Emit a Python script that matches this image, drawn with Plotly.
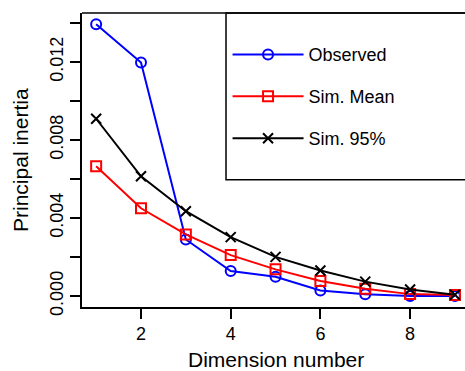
import plotly.graph_objects as go

dims = [1, 2, 3, 4, 5, 6, 7, 8, 9]
observed = [0.01393, 0.01197, 0.00290, 0.00128, 0.00099, 0.00029, 0.00009, 0.00000, 0.00000]
sim_mean = [0.00665, 0.00450, 0.00316, 0.00210, 0.00137, 0.00077, 0.00038, 0.00010, 0.00005]
sim_95 = [0.00909, 0.00614, 0.00435, 0.00302, 0.00201, 0.00131, 0.00074, 0.00034, 0.00007]
series_names = ["Observed", "Sim. Mean", "Sim. 95%"]
x_ticks = [2, 4, 6, 8]
y_ticks = [0.000, 0.004, 0.008, 0.012]

FONT = "Liberation Sans, Arial, Helvetica, sans-serif"

fig = go.Figure()
styles = [
    ("#0000FF", "circle-open", observed),
    ("#FF0000", "square-open", sim_mean),
    ("#000000", "x-thin-open", sim_95),
]
for i, (name, (col, sym, vals)) in enumerate(zip(series_names, styles)):
    fig.add_trace(go.Scatter(
        x=dims, y=vals, name=name, mode="lines+markers",
        line=dict(color=col, width=2),
        marker=dict(symbol=sym, size=10, color=col, line=dict(color=col, width=2)),
        legendgroup=f"g{i}",
    ))

fig.update_layout(
    width=465, height=371,
    margin=dict(l=82, r=0, t=13, b=63.5),
    paper_bgcolor="white", plot_bgcolor="white",
    font=dict(family=FONT, size=18, color="black"),
    showlegend=True,
    legend=dict(
        x=0.38, y=0.921, xanchor="left", yanchor="top",
        bgcolor="rgba(0,0,0,0)", borderwidth=0,
        font=dict(size=18), tracegroupgap=15.5, traceorder="grouped",
        itemwidth=71,
    ),
    xaxis=dict(
        range=[0.6845, 9.224], tickvals=x_ticks, ticktext=[str(v) for v in x_ticks],
        automargin=False,
        showgrid=False, zeroline=False, showline=True, linecolor="black", linewidth=1.5,
        ticks="outside", ticklen=10, tickwidth=1.5, tickcolor="black",
        tickfont=dict(size=18),
    ),
    yaxis=dict(
        range=[-0.00056, 0.01451], tickvals=y_ticks, ticktext=[f"{v:.3f}" for v in y_ticks],
        tickangle=-90, automargin=False,
        showgrid=False, zeroline=False, showline=True, linecolor="black", linewidth=1.5,
        ticks="outside", ticklen=10, tickwidth=1.5, tickcolor="black",
        tickfont=dict(size=18),
        minor=dict(tickvals=[0.002, 0.006, 0.010, 0.014], ticks="outside", ticklen=10,
                   tickwidth=1.5, tickcolor="black", showgrid=False),
    ),
    annotations=[
        dict(text="Dimension number", xref="paper", yref="paper", x=0.5065, y=-0.179,
             xanchor="center", yanchor="middle", showarrow=False, font=dict(size=21),
             borderpad=0),
        dict(text="Principal inertia", xref="paper", yref="paper", x=-0.1619, y=0.5,
             xanchor="center", yanchor="middle", textangle=-90, showarrow=False,
             font=dict(size=21)),
    ],
    shapes=[
        dict(type="line", xref="paper", yref="paper", x0=0, x1=1.05, y0=1, y1=1,
             line=dict(color="black", width=1.5)),
        dict(type="rect", xref="paper", yref="paper", x0=0.376, x1=1.05, y0=0.433, y1=1,
             line=dict(color="black", width=1.5)),
    ],
)

fig.write_html(
    "out.html",
    config={"displayModeBar": False},
    post_script="document.body.style.margin='0px';document.body.style.overflow='hidden';",
)
